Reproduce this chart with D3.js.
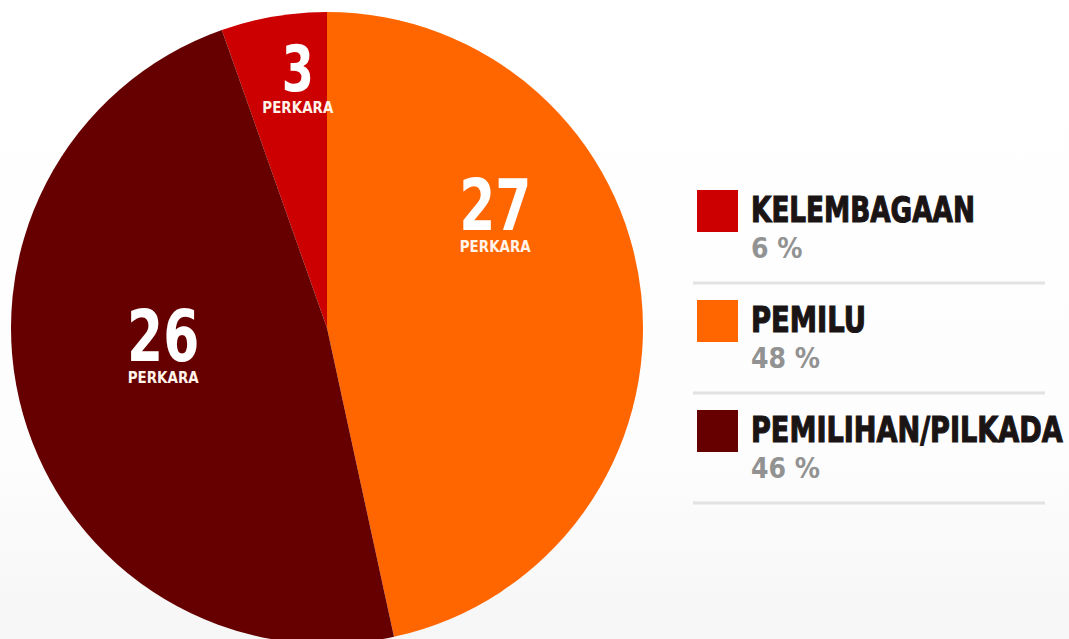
<!DOCTYPE html>
<html>
<head>
<meta charset="utf-8">
<script src="https://cdn.jsdelivr.net/npm/d3@7/dist/d3.min.js"></script>
<style>
  html, body { margin: 0; padding: 0; background: #fff; }
  svg { display: block; }
</style>
</head>
<body>
<svg id="chart" width="1069" height="639"></svg>
<script>
// ---- data ----
const categories = ["KELEMBAGAAN", "PEMILU", "PEMILIHAN/PILKADA"];
const counts = [3, 27, 26];                       // numbers printed in slices
const countUnit = "PERKARA";
const percentLabels = ["6 %", "48 %", "46 %"];
const arcShares = [5.4, 46.6, 48.0];              // slice sizes as drawn in the picture (%)
const colors = ["#cc0000", "#ff6600", "#660000"];

// ---- layout ----
const W = 1069, H = 639;
const cx = 327, cy = 328, R = 316;
const FONT = "'DejaVu Sans Condensed', 'Liberation Sans Narrow', 'Arial Narrow', sans-serif";
const labelLayout = [            // polar placement (deg from top clockwise, radius) and font size
  { ang: -6.4, r: 262, size: 64 },
  { ang: 53.6, r: 209, size: 72 },
  { ang: -92.5, r: 164, size: 72 }
];
const legendTextWidths = [224, 115, 312];
const condense = 0.8;

const svg = d3.select("#chart");

// background gradient
const defs = svg.append("defs");
const g1 = defs.append("linearGradient").attr("id", "bg").attr("x1", 0).attr("y1", 0).attr("x2", 0).attr("y2", 1);
g1.append("stop").attr("offset", "0%").attr("stop-color", "#ffffff");
g1.append("stop").attr("offset", "70%").attr("stop-color", "#fdfdfd");
g1.append("stop").attr("offset", "100%").attr("stop-color", "#f6f6f6");
svg.append("rect").attr("width", W).attr("height", H).attr("fill", "url(#bg)");

// pie
const total = d3.sum(arcShares);
const startA = -arcShares[0] / total * 2 * Math.PI;
const pie = d3.pie().sort(null).value(d => d).startAngle(startA).endAngle(startA + 2 * Math.PI);
const arc = d3.arc().innerRadius(0).outerRadius(R);
const pg = svg.append("g").attr("transform", `translate(${cx},${cy})`);
pg.selectAll("path").data(pie(arcShares)).join("path")
  .attr("d", arc)
  .attr("fill", (d, i) => colors[i]);

// slice labels (number + unit in one text element)
const lt = pg.selectAll("text.lbl").data(counts).join("text").attr("class", "lbl")
  .attr("transform", (d, i) => {
    const a = labelLayout[i].ang * Math.PI / 180, r = labelLayout[i].r;
    return `translate(${r * Math.sin(a)},${-r * Math.cos(a)}) scale(${condense},1)`;
  })
  .attr("text-anchor", "middle")
  .attr("font-family", FONT)
  .attr("font-weight", "bold")
  .attr("fill", "#ffffff");
lt.append("tspan")
  .attr("x", 0)
  .attr("y", (d, i) => labelLayout[i].size * 0.36)
  .attr("font-size", (d, i) => labelLayout[i].size)
  .text(d => d);
lt.append("tspan")
  .attr("x", 0)
  .attr("y", (d, i) => labelLayout[i].size * 0.36 + 22)
  .attr("font-size", 15)
  .attr("textLength", 71 / condense)
  .attr("lengthAdjust", "spacingAndGlyphs")
  .attr("fill", "#fff3ea")
  .text(countUnit);

// legend
const legX = 697, legY0 = 190, legStep = 110;
const items = svg.append("g").selectAll("g").data(categories).join("g")
  .attr("transform", (d, i) => `translate(${legX},${legY0 + i * legStep})`);
items.append("rect")
  .attr("width", 41).attr("height", 42)
  .attr("fill", (d, i) => colors[i]);
items.append("text")
  .attr("font-family", FONT)
  .attr("font-weight", "bold")
  .attr("font-size", 36)
  .attr("fill", "#1a1414")
  .attr("stroke", "#1a1414").attr("stroke-width", 1.1)
  .text(d => d)
  .attr("transform", function (d, i) {
    const sx = legendTextWidths[i] / this.getComputedTextLength();
    return `translate(54,32) scale(${sx},1)`;
  });
items.append("text")
  .attr("x", 54).attr("y", 68)
  .attr("font-family", FONT)
  .attr("font-weight", "bold")
  .attr("font-size", 28)
  .attr("fill", "#929292")
  .text((d, i) => percentLabels[i]);
items.append("line")
  .attr("x1", -4).attr("x2", 348)
  .attr("y1", 93).attr("y2", 93)
  .attr("stroke", "#e2e2e2").attr("stroke-width", 3);
</script>
</body>
</html>
